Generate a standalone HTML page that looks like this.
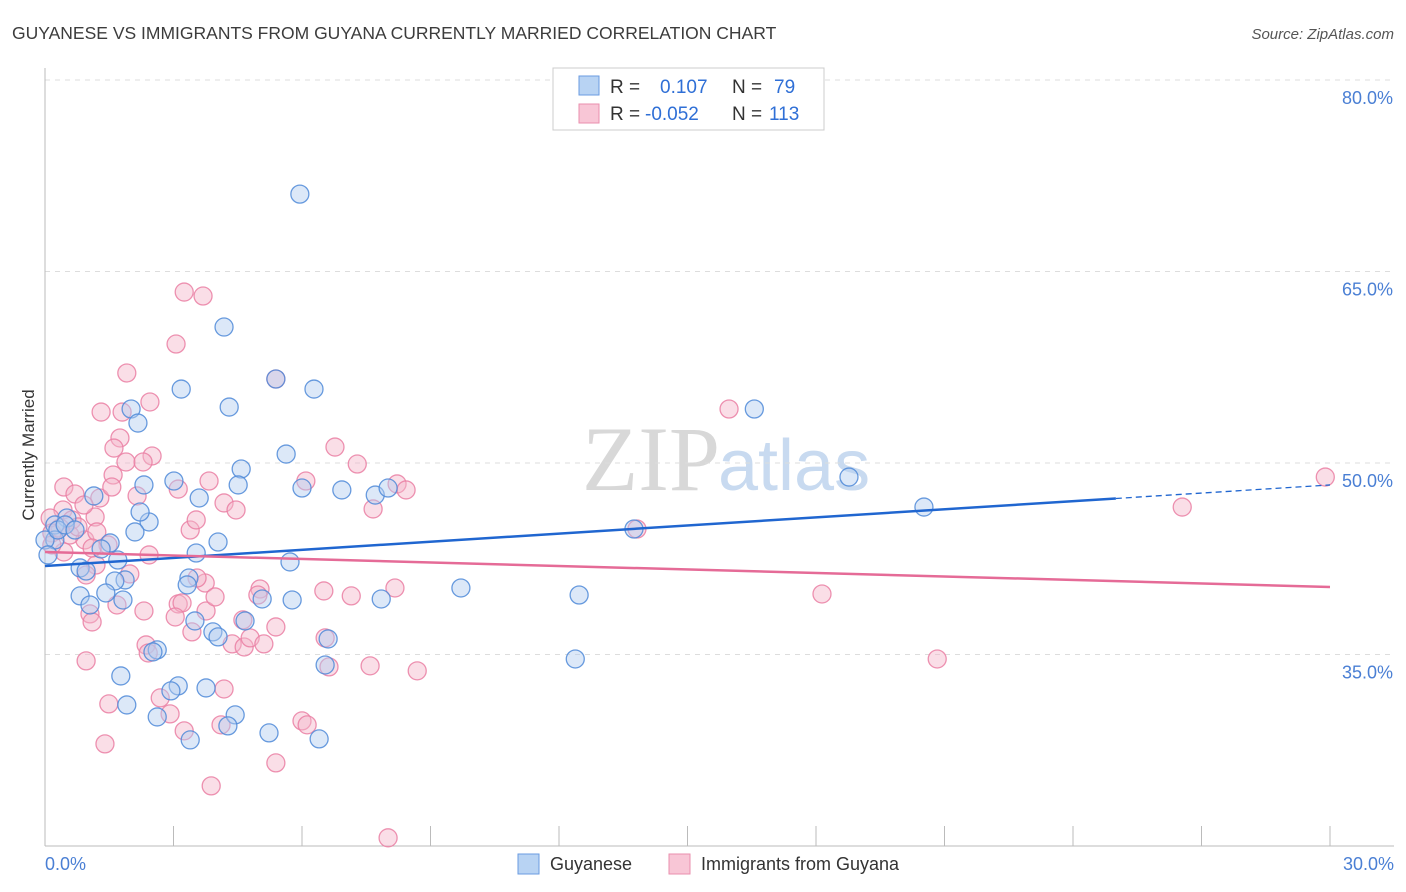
<!DOCTYPE html>
<html><head><meta charset="utf-8"><style>
body{margin:0;background:#fff;font-family:"Liberation Sans",sans-serif;}
svg{display:block}
</style></head><body>
<svg id="chart" width="1406" height="892" xmlns="http://www.w3.org/2000/svg">
<text x="12" y="39" font-size="17.5" fill="#3c3c3c">GUYANESE VS IMMIGRANTS FROM GUYANA CURRENTLY MARRIED CORRELATION CHART</text>
<text x="1394" y="39" font-size="15" fill="#555" font-style="italic" text-anchor="end">Source: ZipAtlas.com</text>
<text x="720" y="490" font-size="92" fill="#d8d8d8" font-family="Liberation Serif" text-anchor="end">ZIP</text>
<text x="718" y="490" font-size="72" fill="#c8daf0">atlas</text>
<g id="grid"></g>
<g id="axes"></g>
<g id="pts"></g>
<g id="trends"></g>
<text x="34" y="455" font-size="17" fill="#333" text-anchor="middle" transform="rotate(-90 34 455)">Currently Married</text>
<g>
<rect x="553" y="68" width="271" height="62" fill="#fff" stroke="#ccc"/>
<rect x="579" y="76" width="20" height="19" fill="#b8d3f3" stroke="#6a9be0"/>
<rect x="579" y="104" width="20" height="19" fill="#f8c6d6" stroke="#ea8fae"/>
<text x="610" y="93" font-size="19" fill="#333">R = <tspan x="660" fill="#2f6fd6">0.107</tspan><tspan x="732" fill="#333">N = </tspan><tspan x="774" fill="#2f6fd6">79</tspan></text>
<text x="610" y="120" font-size="19" fill="#333">R = <tspan x="645" fill="#2f6fd6">-0.052</tspan><tspan x="732" fill="#333">N = </tspan><tspan x="769" fill="#2f6fd6">113</tspan></text>
</g>
<g>
<rect x="518" y="854" width="21" height="20" fill="#b8d3f3" stroke="#6a9be0"/>
<text x="550" y="870" font-size="18" fill="#333">Guyanese</text>
<rect x="669" y="854" width="21" height="20" fill="#f8c6d6" stroke="#ea8fae"/>
<text x="701" y="870" font-size="18" fill="#333">Immigrants from Guyana</text>
</g>
</svg>
<script>
const blueX=[5.95,4.18,5.39,6.28,3.18,4.30,2.01,2.17,16.56,5.63,4.58,2.31,3.01,4.51,6.00,6.93,7.71,8.01,3.60,18.77,20.52,1.14,2.43,0.51,0.23,2.10,4.04,13.75,1.52,3.53,5.72,1.31,0.82,1.70,0.96,3.36,3.32,1.87,1.63,9.71,7.85,12.47,1.42,0.82,1.05,5.07,5.77,3.50,4.67,3.92,4.04,6.61,2.62,2.52,6.54,12.38,1.77,3.11,2.94,3.76,1.91,4.44,2.62,4.27,5.23,3.39,6.40,0.23,0,0.30,0.47,0.70,2.22,1.82,0.07];
const blueY=[71.06,60.65,56.58,55.79,55.79,54.38,54.23,53.13,54.23,50.70,49.53,48.28,48.59,48.28,48.04,47.89,47.49,48.04,47.26,48.90,46.55,47.42,45.38,45.69,45.15,44.60,43.81,44.83,43.74,42.95,42.25,43.27,41.78,42.40,41.54,40.99,40.45,40.84,40.76,40.21,39.35,39.66,39.82,39.59,38.88,39.35,39.27,37.63,37.63,36.77,36.38,36.22,35.36,35.20,34.18,34.65,33.32,32.54,32.15,32.38,31.05,30.27,30.11,29.41,28.86,28.31,28.39,43.97,43.97,44.75,45.15,44.75,46.16,39.27,42.80];
const pinkX=[29.89,26.55,15.97,13.82,5.39,3.25,3.69,3.06,1.91,2.45,1.80,1.31,1.75,1.61,2.50,1.89,2.29,6.77,7.29,1.59,0.44,0.70,1.28,1.56,2.15,3.11,3.83,4.18,4.46,6.09,7.66,8.22,8.43,1.17,0.91,0.42,0.63,0.35,0.12,0.16,0.93,1.21,1.47,2.43,3.39,3.53,1.19,0.96,1.98,3.74,3.55,5.02,4.97,6.51,7.15,8.17,18.14,3.11,3.20,3.76,3.97,1.68,2.31,1.05,1.10,3.04,4.62,3.43,5.39,2.36,2.41,4.37,4.65,4.79,5.11,6.54,6.63,7.59,8.69,20.83,0.96,2.69,2.92,1.49,3.25,4.18,4.11,6.00,6.12,1.40,5.39,3.88,8.01,0.44,0.16,0.58,0.77,1.10];
const pinkY=[48.90,46.55,54.23,44.83,56.58,63.39,63.08,59.32,57.05,54.78,53.99,53.99,51.96,51.17,50.55,50.08,50.08,51.25,49.92,49.06,48.12,47.57,47.26,48.12,47.42,47.96,48.59,46.87,46.32,48.59,46.40,48.36,47.89,45.77,46.71,46.32,45.54,44.91,45.69,44.52,43.97,44.60,43.58,42.80,44.75,45.54,42.01,41.23,41.31,40.60,40.99,40.13,39.66,39.98,39.59,40.21,39.74,38.96,39.04,38.41,39.51,38.88,38.41,38.18,37.55,37.94,37.71,36.77,37.16,35.75,35.12,35.83,35.59,36.30,35.83,36.30,34.03,34.11,33.72,34.65,34.50,31.60,30.35,31.13,29.02,32.30,29.49,29.80,29.49,28.00,26.51,24.71,20.64,43.03,43.58,44.36,44.99,43.34];
const yTicks=[80,65,50,35];
const yTickLabels=["80.0%","65.0%","50.0%","35.0%"];
const xTicks=[0,3,6,9,12,15,18,21,24,27,30];
const blueTrend=[41.93,48.28];
const pinkTrend=[43.03,40.29];
const blueSolidEnd=25;
const NS="http://www.w3.org/2000/svg";
const X=v=>45+v/30*1285;
const Y=v=>463-(v-50)*191.5/15;
function mk(tag,attrs,parent){const e=document.createElementNS(NS,tag);for(const k in attrs)e.setAttribute(k,attrs[k]);parent.appendChild(e);return e;}
const grid=document.getElementById('grid'),axes=document.getElementById('axes'),pts=document.getElementById('pts'),tr=document.getElementById('trends');
yTicks.forEach((t,i)=>{
 const l=mk('line',{x1:45,x2:1394,y1:Y(t),y2:Y(t),stroke:'#ddd','stroke-dasharray':'5,5'},grid);
 
 
 const tx=mk('text',{x:1393,y:Y(t)+24,'font-size':18,fill:'#4a7fd4','text-anchor':'end'},axes);
 tx.textContent=yTickLabels[i];
 
 
});
const ax=mk('line',{x1:45,x2:45,y1:68,y2:846,stroke:'#bbb'},axes);


const bx=mk('line',{x1:45,x2:1394,y1:846,y2:846,stroke:'#bbb'},axes);


xTicks.forEach(t=>{
 const l=mk('line',{x1:X(t),x2:X(t),y1:826,y2:846,stroke:'#bbb'},axes);
 
 
});
[[0,'0.0%','start',45],[30,'30.0%','end',1394]].forEach(a=>{
 const t=mk('text',{x:a[3],y:870,'font-size':18,fill:'#4a7fd4','text-anchor':a[2]},axes);
 t.textContent=a[1];
 
 
});
function dots(xs,ys,fill,stroke,name){
 xs.forEach((x,i)=>{
  const c=mk('circle',{cx:X(x),cy:Y(ys[i]),r:9,fill:fill,'fill-opacity':0.45,stroke:stroke,'stroke-width':1.3,'stroke-opacity':0.85},pts);
  
  
 });
}
dots(pinkX,pinkY,'#f5b5c9','#ea7fa3','point-immigrants');
dots(blueX,blueY,'#b1cdf0','#4f8ad8','point-guyanese');
const by=x=>blueTrend[0]+(blueTrend[1]-blueTrend[0])*x/30;
const b1=mk('line',{x1:X(0),y1:Y(blueTrend[0]),x2:X(blueSolidEnd),y2:Y(by(blueSolidEnd)),stroke:'#2066d0','stroke-width':2.5},tr);


const b2=mk('line',{x1:X(blueSolidEnd),y1:Y(by(blueSolidEnd)),x2:X(30),y2:Y(blueTrend[1]),stroke:'#2066d0','stroke-width':1.3,'stroke-dasharray':'6,4'},tr);


const p1=mk('line',{x1:X(0),y1:Y(pinkTrend[0]),x2:X(30),y2:Y(pinkTrend[1]),stroke:'#e56b97','stroke-width':2.5},tr);


</script>
</body></html>
